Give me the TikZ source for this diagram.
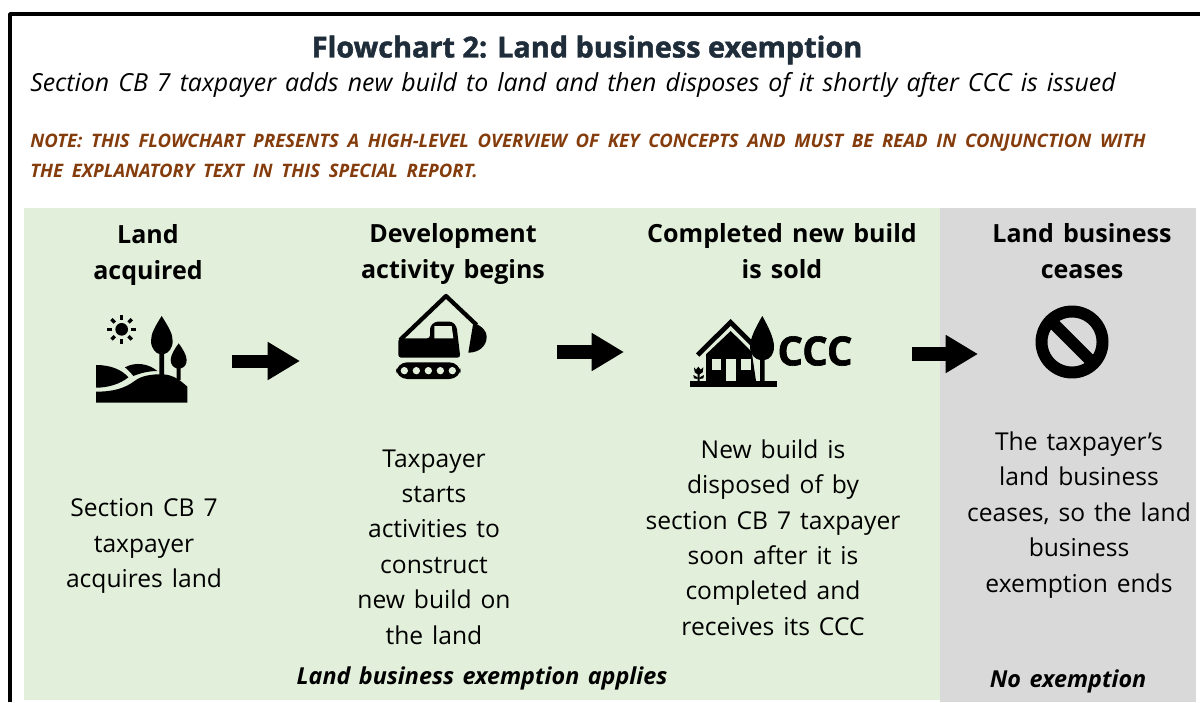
\documentclass[tikz,border=0pt]{standalone}
\usepackage{fontspec}
\setmainfont[WordSpace=1.4]{Open Sans}
\newfontfamily\titlefont[BoldFeatures={FakeBold=1.6}]{Open Sans}
\newfontfamily\notefont[WordSpace=1.8]{Open Sans}
\usepackage{tikz}
\usetikzlibrary{arrows.meta}
\definecolor{landgreen}{HTML}{E2EFDA}
\definecolor{ceasegrey}{HTML}{D9D9D9}
\definecolor{notebrown}{HTML}{843C0C}
\definecolor{titlenavy}{HTML}{1F2D3A}
\tikzset{
  headtext/.style={font=\fontsize{17.8}{25.2}\selectfont\bfseries,align=center,inner sep=0pt},
  bodytext/.style={font=\fontsize{17.5}{25.2}\selectfont,align=center,inner sep=0pt},
  notetext/.style={font=\fontsize{13.2}{21}\notefont\bfseries\itshape,text=notebrown,align=left,inner sep=0pt,anchor=west},
  tagtext/.style={font=\fontsize{16.6}{20}\selectfont\bfseries\itshape,inner sep=0pt},
  flowarrow/.style={line width=9.25pt,-{Triangle[length=23pt,width=25.6pt]}},
}
\begin{document}
\begin{tikzpicture}[x=0.025cm,y=-0.025cm]
\useasboundingbox (0,0) rectangle (1200,702);
% frame and panels
\fill [landgreen] (24,208) rectangle (940,700);
\fill [ceasegrey] (940,208) rectangle (1196,702);
\draw [line width=2.7pt,line join=round] (10,702) -- (10,14) -- (1200,14);
% heading
\node [font=\fontsize{20.5}{24}\titlefont\bfseries,text=titlenavy,inner sep=0pt] (title) at (587,50) {Flowchart 2: Land business exemption};
\node [font=\fontsize{17.7}{24}\selectfont\itshape,inner sep=0pt,anchor=west] (subtitle) at (30,85) {Section CB 7 taxpayer adds new build to land and then disposes of it shortly after CCC is issued};
\node [notetext] (note) at (30,156) {NOTE: THIS FLOWCHART PRESENTS A HIGH-LEVEL OVERVIEW OF KEY CONCEPTS AND MUST BE READ IN CONJUNCTION WITH\\THE EXPLANATORY TEXT IN THIS SPECIAL REPORT.};
% column heads
\node [headtext] (headland) at (148,255) {Land\\acquired};
\node [headtext] (headdev) at (453,254) {Development\\activity begins};
\node [headtext] (headsold) at (782,251) {Completed new build\\is sold};
\node [headtext] (headcease) at (1082,251) {Land business\\ceases};
% column texts
\node [bodytext] (textland) at (144,546) {Section CB 7\\taxpayer\\acquires land};
\node [bodytext] (textdev) at (434,547) {Taxpayer\\starts\\activities to\\construct\\new build on\\the land};
\node [bodytext] (textsold) at (773,537.5) {New build is\\disposed of by\\section CB 7 taxpayer\\soon after it is\\completed and\\receives its CCC};
\node [bodytext] (textcease) at (1079,515) {The taxpayer’s\\land business\\ceases, so the land\\business\\exemption ends};
\node [tagtext] (applies) at (482,678) {Land business exemption applies};
\node [tagtext] (noexempt) at (1068,681) {No exemption};
% land icon
\begin{scope}[shift={(80,290)},scale=1/3]
\fill (125,118) circle (19);
\foreach \a in {0,45,...,315}
  \draw [line width=2.4pt] (125,118) ++(\a:29) -- ++(\a:14);
\fill (245,78) .. controls (225,110) and (213,130) .. (213,153) .. controls (213,175) and (228,190) .. (238,192) -- (238,255) -- (252,255) -- (252,192) .. controls (265,190) and (278,175) .. (278,153) .. controls (278,130) and (265,110) .. (245,78) -- cycle;
\fill (296,160) .. controls (285,175) and (272,195) .. (272,210) .. controls (272,225) and (282,233) .. (290,235) -- (290,270) -- (302,270) -- (302,235) .. controls (312,233) and (320,225) .. (320,210) .. controls (320,195) and (307,175) .. (296,160) -- cycle;
\fill (48,225) .. controls (90,225) and (125,238) .. (145,262) .. controls (120,282) and (85,293) .. (48,293) -- cycle;
\fill (135,232) .. controls (165,215) and (205,220) .. (232,243) .. controls (205,243) and (180,250) .. (160,258) .. controls (152,248) and (145,240) .. (135,232) -- cycle;
\fill (48,305) .. controls (100,305) and (135,295) .. (165,272) .. controls (185,257) and (215,252) .. (250,253) .. controls (280,255) and (300,270) .. (322,290) -- (322,338) -- (48,338) -- cycle;
\end{scope}
% digger icon
\begin{scope}[shift={(380,285)},scale=1/3]
\draw [line width=3pt,line join=round] (60,165) -- (198,33) -- (290,120);
\fill [rounded corners=2pt] (55,160) -- (150,160) -- (150,125) -- (165,110) -- (217,110) -- (230,125) -- (241,218) -- (55,218) -- cycle;
\fill [landgreen] (163,123) -- (215,123) -- (220,160) -- (163,160) -- cycle;
\fill (280,113) .. controls (310,125) and (320,140) .. (320,155) .. controls (320,185) and (295,203) .. (265,203) -- cycle;
\fill [rounded corners=8pt] (48,232) rectangle (242,282);
\foreach \x in {73,109,145,181,217}
  \fill [landgreen] (\x,257) circle (11);
\end{scope}
% house icon
\begin{scope}[shift={(680,295)},scale=1/3]
\fill (30,258) rectangle (290,276);
\draw [line width=3.4pt] (53,180) -- (152,82) -- (215,145);
\fill (78,258) -- (78,178) -- (152,108) -- (215,170) -- (228,258) -- cycle;
\fill [landgreen] (95,193) rectangle (123,225);
\fill [landgreen] (138,193) rectangle (167,258);
\fill [landgreen] (182,193) rectangle (212,225);
\fill [landgreen] (228,130) rectangle (262,258);
\fill (247,63) .. controls (228,95) and (210,130) .. (210,155) .. controls (210,178) and (225,193) .. (240,195) -- (240,258) -- (254,258) -- (254,195) .. controls (270,193) and (282,178) .. (282,155) .. controls (282,130) and (265,95) .. (247,63) -- cycle;
\fill (42,217) -- (48,224) -- (55,215) -- (62,224) -- (70,217) -- (68,232) -- (59,238) -- (59,258) -- (53,258) -- (53,238) -- (44,232) -- cycle;
\fill (40,240) -- (53,247) -- (53,252) -- (42,250) -- cycle;
\fill (72,240) -- (59,247) -- (59,252) -- (70,250) -- cycle;
\end{scope}
\node [font=\fontsize{28.5}{30}\titlefont\bfseries,inner sep=0pt] (ccc) at (815,351) {CCC};
% no symbol
\draw [line width=8.5pt] (1072,342) circle (30.5);
\draw [line width=8.5pt] (1051,321) -- (1093,363);
% arrows
\coordinate (landout) at (232,361);
\coordinate (devin) at (300,361);
\coordinate (devout) at (557,352);
\coordinate (soldin) at (624,352);
\coordinate (soldout) at (912,354);
\coordinate (ceasein) at (978,354);
\draw [flowarrow] (landout) -- (devin);
\draw [flowarrow] (devout) -- (soldin);
\draw [flowarrow] (soldout) -- (ceasein);
\end{tikzpicture}
\end{document}
